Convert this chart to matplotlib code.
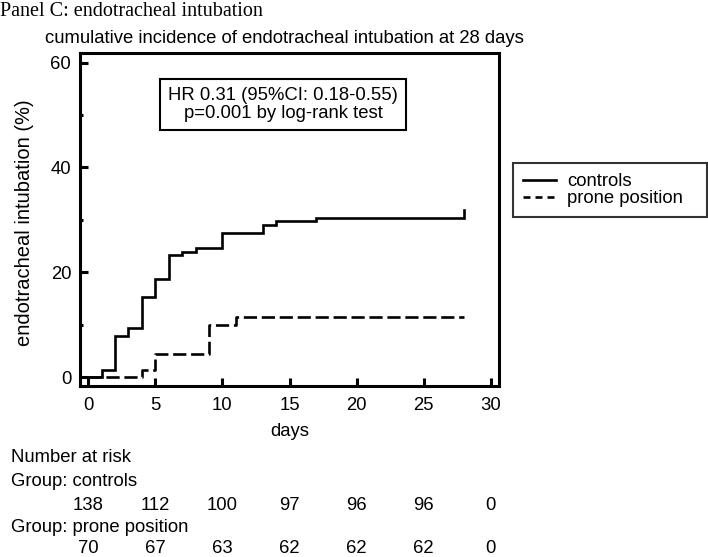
"""Panel C: cumulative incidence of endotracheal intubation (KM step curves + number at risk)."""
import matplotlib

matplotlib.use("Agg")
import matplotlib.pyplot as plt  # noqa: E402
from matplotlib.lines import Line2D  # noqa: E402
from matplotlib.transforms import blended_transform_factory  # noqa: E402

plt.rcParams["font.family"] = ["Liberation Sans", "DejaVu Sans"]

# 数据: 累积发生率 (%) 的阶梯点
controls_days = [0, 1, 2, 3, 4, 5, 6, 7, 8, 10, 13, 14, 17, 28]
controls_pct = [0, 1.4, 7.9, 9.4, 15.2, 18.8, 23.2, 23.9, 24.6, 27.5, 29.0, 29.7, 30.4, 31.9]
prone_days = [0, 4, 5, 9, 11, 28]
prone_pct = [0, 1.4, 4.3, 10.0, 11.4, 11.4]

risk_days = [0, 5, 10, 15, 20, 25, 30]
risk_controls = [138, 112, 100, 97, 96, 96, 0]
risk_prone = [70, 67, 63, 62, 62, 62, 0]

W, H = 708, 557
FS = 13.3
LW = 1.9

fig = plt.figure(figsize=(W / 100, H / 100), dpi=100)
ax = fig.add_axes([79.5 / W, 1 - 385.7 / H, (499.3 - 79.5) / W, (385.7 - 53.3) / H])

ax.step(controls_days, controls_pct, where="post", color="black", lw=LW,
        solid_joinstyle="miter")
ax.step(prone_days, prone_pct, where="post", color="black", lw=LW,
        dashes=(5, 1.8))

ax.set_xlim(-0.65, 30.63)
ax.set_ylim(-1.66, 61.8)
ax.set_xticks(range(0, 31, 5))
ax.set_yticks([0, 20, 40, 60])
ax.set_yticks([10, 30, 50], minor=True)
for s in ax.spines.values():
    s.set_linewidth(2.2)
ax.tick_params(which="major", direction="in", length=6, width=2.2, labelsize=FS)
ax.tick_params(axis="x", which="major", pad=8)
ax.tick_params(axis="y", which="major", pad=6)
ax.tick_params(which="minor", direction="in", length=2.5, width=2.2)
ax.tick_params(axis="x", which="minor", bottom=False)

ax.set_xlabel("days", fontsize=FS)
ax.xaxis.set_label_coords(0.5, -0.113)
ax.set_ylabel("endotracheal intubation (%)", fontsize=14.5)
ax.yaxis.set_label_coords(-0.108, 0.49)

ax.text(0.485, 0.846, "HR 0.31 (95%CI: 0.18-0.55)\np=0.001 by log-rank test",
        transform=ax.transAxes, ha="center", va="center", fontsize=FS,
        linespacing=1.05,
        bbox=dict(boxstyle="square,pad=0.45", fc="white", ec="black", lw=1.5))

# 图例里的虚线是短划 "---"
handles = [Line2D([], [], color="black", lw=LW),
           Line2D([], [], color="black", lw=LW, dashes=(2.65, 1.9))]
leg = fig.legend(handles, ["controls", "prone position"],
                 loc="upper left", bbox_to_anchor=(513 / W, 1 - 218 / H, 194 / W, 55 / H),
                 mode="expand", fontsize=FS, frameon=True, fancybox=False,
                 edgecolor="black", handlelength=1.8, handletextpad=0.6,
                 labelspacing=0.0, borderpad=0.55, borderaxespad=0)
leg.get_frame().set_linewidth(1.5)

fig.text(0, 1 - 12 / H, "Panel C: endotracheal intubation", family="Liberation Serif",
         fontsize=14.5, va="center", ha="left")
fig.text(45 / W, 1 - 38.5 / H, "cumulative incidence of endotracheal intubation at 28 days",
         fontsize=FS, va="center", ha="left")

# Number at risk 表
tr = blended_transform_factory(ax.transData, fig.transFigure)
fig.text(11 / W, 1 - 458 / H, "Number at risk", fontsize=FS, va="center")
fig.text(11 / W, 1 - 482 / H, "Group: controls", fontsize=FS, va="center")
fig.text(11 / W, 1 - 528 / H, "Group: prone position", fontsize=FS, va="center")
for d, c, p in zip(risk_days, risk_controls, risk_prone):
    ax.text(d, 1 - 505 / H, str(c), transform=tr, fontsize=FS, ha="center", va="center")
    ax.text(d, 1 - 548.5 / H, str(p), transform=tr, fontsize=FS, ha="center", va="center")

fig.savefig("out.png", dpi=100)
